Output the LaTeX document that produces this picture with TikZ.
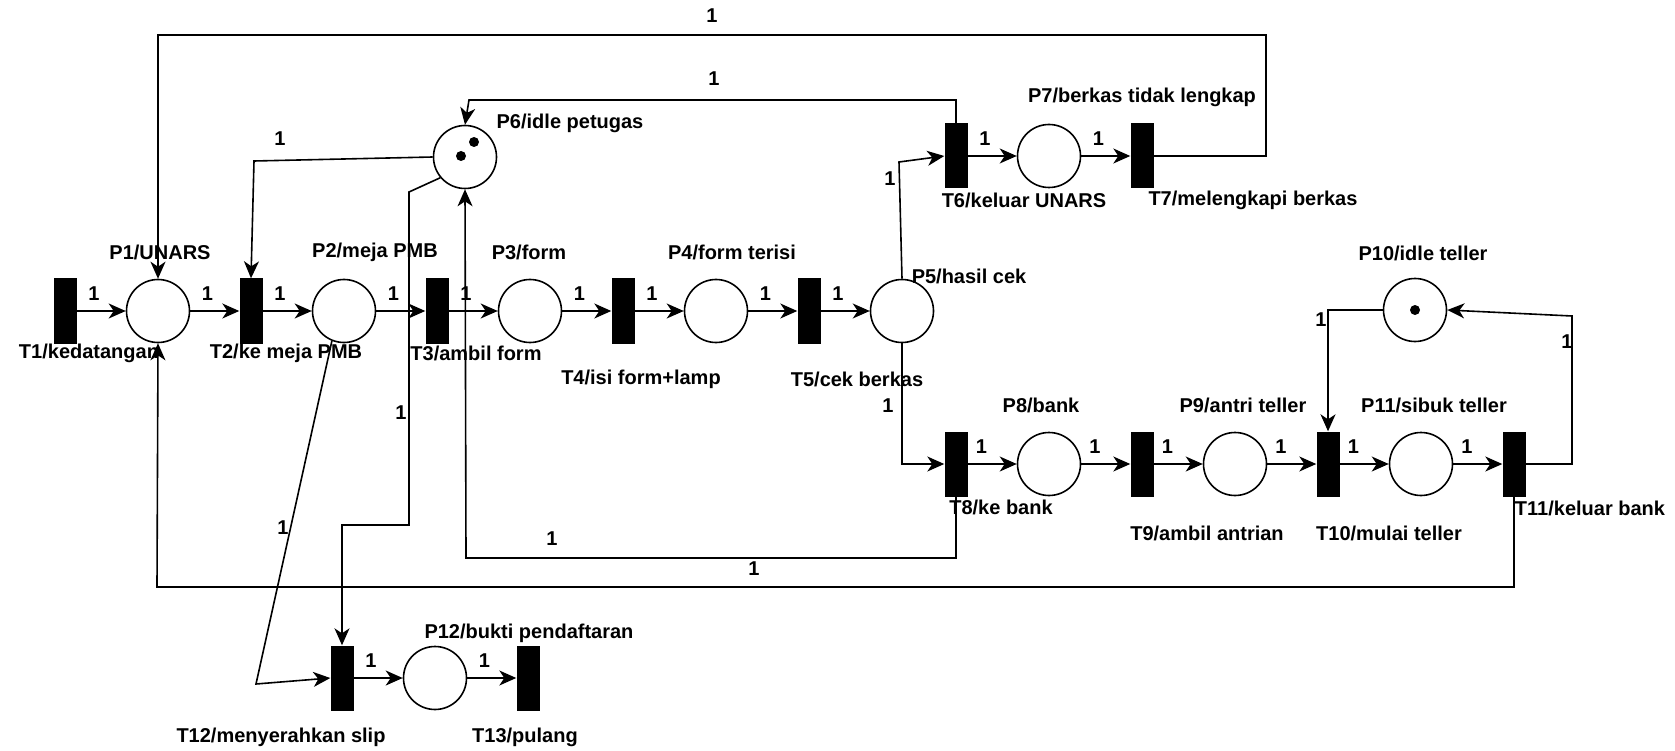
\documentclass[tikz,border=0pt]{standalone}
\usepackage{fontspec}
\setmainfont{Liberation Sans}
\usetikzlibrary{positioning,arrows.meta}

\begin{document}
\begin{tikzpicture}[
  x=1pt,y=-1pt,
  >={Stealth[length=17pt,width=15pt,inset=5pt]},
  every node/.style={font=\bfseries\fontsize{20}{24}\selectfont},
  place/.style={circle,draw,line width=1.6pt,minimum size=63pt,inner sep=0pt},
  trans/.style={rectangle,fill=black,minimum width=23pt,minimum height=65pt,inner sep=0pt},
  token/.style={circle,fill=black,inner sep=0pt,minimum size=10pt},
  wt/.style={inner sep=1pt},
  arc/.style={->,line width=1.6pt},
  node distance=49pt
]
\useasboundingbox (0,0) rectangle (1675,751);

% main row
\node[trans] (T1) at (65,311) {};
\node[place,right=of T1] (P1) {};
\node[trans,right=of P1] (T2) {};
\node[place,right=of T2] (P2) {};
\node[trans,right=of P2] (T3) {};
\node[place,right=of T3] (P3) {};
\node[trans,right=of P3] (T4) {};
\node[place,right=of T4] (P4) {};
\node[trans,right=of P4] (T5) {};
\node[place,right=of T5] (P5) {};

% berkas tidak lengkap
\node[trans] (T6) at (956,156) {};
\node[place,right=of T6] (P7) {};
\node[trans,right=of P7] (T7) {};

% bank
\node[trans] (T8) at (956,464) {};
\node[place,right=of T8] (P8) {};
\node[trans,right=of P8] (T9) {};
\node[place,right=of T9] (P9) {};
\node[trans,right=of P9] (T10) {};
\node[place,right=of T10] (P11) {};
\node[trans,right=of P11] (T11) {};

% pulang
\node[trans] (T12) at (342,678) {};
\node[place,right=of T12] (P12) {};
\node[trans,right=of P12] (T13) {};

% resources
\node[place] (P6) at (465,157) {};
\node[token] (k1) at (474,142) {};
\node[token] (k2) at (461,156) {};
\node[place] (P10) at (1415,310) {};
\node[token] (k3) at (P10) {};

% labels
\node (lP1) at (160,252) {P1/UNARS};
\node (lP2) at (375,252) {P2/meja PMB};
\node (lP3) at (529,252) {P3/form};
\node (lP4) at (732,252) {P4/form terisi};
\node (lP5) at (969,276) {P5/hasil cek};
\node (lP6) at (570,123) {P6/idle petugas};
\node (lP7) at (1142,97) {P7/berkas tidak lengkap};
\node (lP8) at (1041,405) {P8/bank};
\node (lP9) at (1243,405) {P9/antri teller};
\node (lP10) at (1423,253) {P10/idle teller};
\node (lP11) at (1434,405) {P11/sibuk teller};
\node (lP12) at (529,633) {P12/bukti pendaftaran};
\node (lT1) at (89,353) {T1/kedatangan};
\node (lT2) at (286,353) {T2/ke meja PMB};
\node (lT3) at (476,353) {T3/ambil form};
\node (lT4) at (641,379) {T4/isi form+lamp};
\node (lT5) at (857,379) {T5/cek berkas};
\node (lT6) at (1024,200) {T6/keluar UNARS};
\node (lT7) at (1253,200) {T7/melengkapi berkas};
\node (lT8) at (1001,507) {T8/ke bank};
\node (lT9) at (1207,533) {T9/ambil antrian};
\node (lT10) at (1389,533) {T10/mulai teller};
\node (lT11) at (1590,508) {T11/keluar bank};
\node (lT12) at (281,737) {T12/menyerahkan slip};
\node (lT13) at (525,737) {T13/pulang};

% straight arcs
\foreach \a/\b in {T1/P1,P1/T2,T2/P2,P2/T3,T3/P3,P3/T4,T4/P4,P4/T5,T5/P5,
                   T6/P7,P7/T7,T12/P12,P12/T13}
  \draw[arc] (\a) -- node[wt,pos=0.35,above=9pt]{1} (\b);
\foreach \a/\b in {T8/P8,P8/T9,T9/P9,P9/T10,T10/P11,P11/T11}
  \draw[arc] (\a) -- node[wt,pos=0.28,above=9pt]{1} (\b);

% bent arcs
\coordinate (topR) at (1266,35);
\coordinate (bendA) at (469,100);
\coordinate (bendB) at (254,161);
\coordinate (bendC) at (409,192);
\coordinate (bendE) at (342,525);
\coordinate (bendF) at (466,558);
\coordinate (bendG) at (157,587);
\coordinate (bendH) at (256,684);
\coordinate (bendI) at (899,162);
\coordinate (bendK) at (1572,316);

\draw[arc] (T7.east) -| (topR) -| (P1.north);
\draw[arc] (T6.north) |- (bendA) -- (P6.north);
\draw[arc] (P6.west) -- (bendB) -- (T2.north);
\draw[arc] (P6.220) -- (bendC) |- (bendE) -- (T12.north);
\draw[arc] (T8.south) |- (bendF) -- (P6.south);
\draw[arc] (T11.south) |- (bendG) -- (P1.south);
\draw[arc] (P2.248) -- (bendH) -- (T12.west);
\draw[arc] (P5.north) -- (bendI) -- (T6.west);
\draw[arc] (P5.south) |- (T8.west);
\draw[arc] (P10.west) -| (T10.north);
\draw[arc] (T11.east) -| (bendK) -- (P10.east);

% weights on bent arcs
\node[wt] (w1) at (712,16) {1};
\node[wt] (w2) at (714,79) {1};
\node[wt] (w3) at (280,139) {1};
\node[wt] (w4) at (890,179) {1};
\node[wt] (w5) at (888,406) {1};
\node[wt] (w6) at (401,413) {1};
\node[wt] (w7) at (283,528) {1};
\node[wt] (w8) at (552,539) {1};
\node[wt] (w9) at (754,569) {1};
\node[wt] (w10) at (1321,320) {1};
\node[wt] (w11) at (1567,342) {1};
\end{tikzpicture}
\end{document}
